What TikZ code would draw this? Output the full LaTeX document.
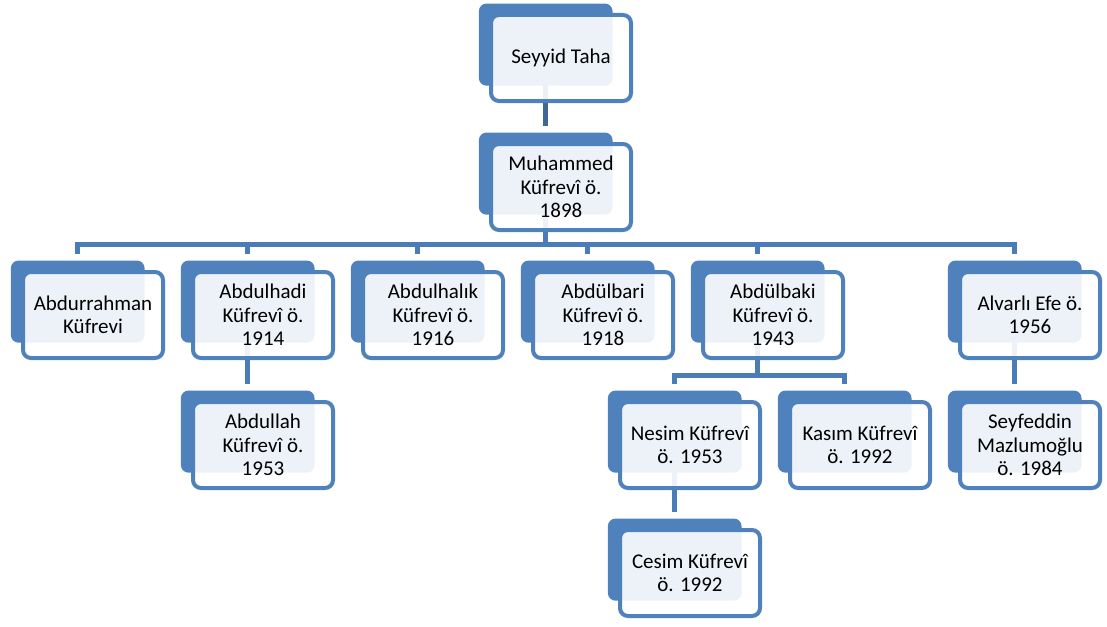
\documentclass[tikz,border=0pt]{standalone}
\usepackage{fontspec}
\setmainfont{Carlito}
\usepackage{tikz}
\usetikzlibrary{shadows}
\usetikzlibrary{backgrounds}
\definecolor{boxblue}{HTML}{4F81BD}
\definecolor{linkblue}{HTML}{4A7CB8}
\tikzstyle{person}=[
        draw=boxblue,
        line width=4pt,
        rounded corners=8pt,
        fill=white,
        fill opacity=0.9,
        text opacity=1,
        minimum width=140pt,
        minimum height=86pt,
        align=center,
        font=\fontsize{21}{23.5}\selectfont,
        general shadow={fill=boxblue,fill opacity=1,shadow scale=0.955,
                shadow xshift=-16pt,shadow yshift=14pt}
]
\tikzstyle{link}=[draw=linkblue,line width=5pt]
\begin{document}
\begin{tikzpicture}[x=1pt,y=-1pt]
\useasboundingbox (0,0) rectangle (1107,626);
\node[person] (taha) at (561,58) {Seyyid Taha};
\node[person] (muhammed) at (561,187) {Muhammed\\Küfrevî ö.\\1898};
\node[person] (abdurrahman) at (93,315) {Abdurrahman\\Küfrevi};
\node[person] (abdulhadi) at (263,315) {Abdulhadi\\Küfrevî ö.\\1914};
\node[person] (abdulhalik) at (433,315) {Abdulhalık\\Küfrevî ö.\\1916};
\node[person] (abdulbari) at (603,315) {Abdülbari\\Küfrevî ö.\\1918};
\node[person] (abdulbaki) at (773,315) {Abdülbaki\\Küfrevî ö.\\1943};
\node[person] (alvarli) at (1030,315) {Alvarlı Efe ö.\\1956};
\node[person] (abdullah) at (263,445) {Abdullah\\Küfrevî ö.\\1953};
\node[person] (nesim) at (690,445) {Nesim Küfrevî\\ö. 1953};
\node[person] (kasim) at (860,445) {Kasım Küfrevî\\ö. 1992};
\node[person] (seyfeddin) at (1030,445) {Seyfeddin\\Mazlumoğlu\\ö. 1984};
\node[person] (cesim) at (690,573) {Cesim Küfrevî\\ö. 1992};
%connectors behind the boxes
\begin{scope}[on background layer]
\coordinate (hub) at (545,244);
\coordinate (hubbaki) at (757,375);
\draw[link,draw=boxblue!80!black] ([xshift=-16pt]taha.center) -- ([xshift=-16pt,yshift=16pt]muhammed.north);
\draw[link] ([xshift=-16pt]muhammed.center) -- (hub);
\foreach \child in {abdurrahman,abdulhadi,abdulhalik,abdulbari,abdulbaki,alvarli}
        \draw[link] (hub) -| ([xshift=-16pt,yshift=16pt]\child.north);
\draw[link] ([xshift=-16pt]abdulhadi.center) -- ([xshift=-16pt,yshift=16pt]abdullah.north);
\draw[link] ([xshift=-16pt]abdulbaki.center) -- (hubbaki);
\draw[link] (hubbaki) -| ([xshift=-16pt,yshift=16pt]nesim.north);
\draw[link] (hubbaki) -| ([xshift=-16pt,yshift=16pt]kasim.north);
\draw[link] ([xshift=-16pt]nesim.center) -- ([xshift=-16pt,yshift=16pt]cesim.north);
\draw[link] ([xshift=-16pt]alvarli.center) -- ([xshift=-16pt,yshift=16pt]seyfeddin.north);
\end{scope}
\end{tikzpicture}
\end{document}
